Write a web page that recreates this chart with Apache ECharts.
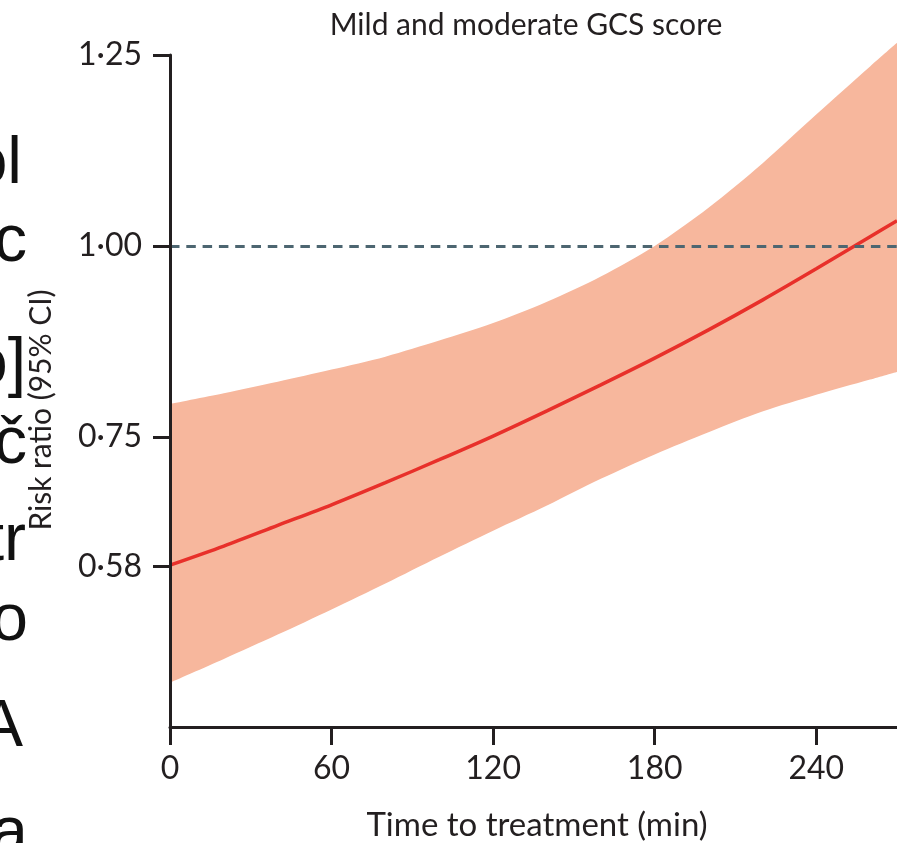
<!DOCTYPE html>
<html>
<head>
<meta charset="utf-8">
<script src="https://cdn.jsdelivr.net/npm/echarts@6/dist/echarts.min.js"></script>
<style>
html,body{margin:0;padding:0;background:#fff;}
#chart{width:897px;height:843px;}
</style>
</head>
<body>
<div id="chart"></div>
<script>
// Time to treatment (min)
var times = [0, 20, 40, 60, 80, 100, 120, 140, 160, 180, 200, 220, 240, 260, 270];
// Risk ratio (point estimate)
var riskRatio = [0.582, 0.607, 0.634, 0.661, 0.690, 0.720, 0.751, 0.784, 0.818, 0.853, 0.890, 0.929, 0.970, 1.012, 1.033];
// 95% CI bounds
var ciLower = [0.428, 0.459, 0.491, 0.524, 0.558, 0.593, 0.627, 0.660, 0.695, 0.727, 0.756, 0.783, 0.805, 0.825, 0.835];
var ciUpper = [0.793, 0.807, 0.822, 0.838, 0.855, 0.876, 0.899, 0.927, 0.960, 1.000, 1.050, 1.108, 1.172, 1.235, 1.266];
// Tick labels
var xTicks = [0, 60, 120, 180, 240];
var yTicks = [0.58, 0.75, 1.00, 1.25];
var refValue = 1.0;
var titleText = 'Mild and moderate GCS score';
var xName = 'Time to treatment (min)';
var yName = 'Risk ratio (95% CI)';
// Cropped neighbouring-panel fragments at left edge
var edgeFragments = ['ol', 'nc', 'o]', 'oč', 'tr', 'o', 'A', 'a'];

var FONT = 'Lato, "Liberation Sans", sans-serif';
var INK = '#231f20';

var lowerData = times.map(function (t, i) { return [t, ciLower[i]]; });
var upperData = times.map(function (t, i) { return [t, ciUpper[i]]; });
var lineData = times.map(function (t, i) { return [t, riskRatio[i]]; });

var fragY = [132, 210, 333, 412, 509, 589, 695, 802];
var fragX = [22, 27, 26, 27, 26, 28, 23, 28];
var graphics = [];
graphics.push({
  type: 'text', x: 526, y: 25, z: 100,
  style: { text: titleText, font: '30px ' + FONT, fill: INK, textAlign: 'center', textVerticalAlign: 'middle' }
});
graphics.push({
  type: 'text', x: 537, y: 825, z: 100,
  style: { text: xName, font: '33px ' + FONT, fill: INK, textAlign: 'center', textVerticalAlign: 'middle' }
});
graphics.push({
  type: 'text', x: 41, y: 410, rotation: Math.PI / 2, z: 100,
  style: { text: yName, font: '30px ' + FONT, fill: INK, textAlign: 'center', textVerticalAlign: 'middle' }
});
edgeFragments.forEach(function (s, i) {
  graphics.push({
    type: 'text', x: fragX[i], y: fragY[i], z: 100,
    style: { text: s, font: '66px "Liberation Sans", sans-serif', fill: '#111', textAlign: 'right', textVerticalAlign: 'top' }
  });
});

var chart = echarts.init(document.getElementById('chart'), null, { renderer: 'canvas' });
chart.setOption({
  animation: false,
  backgroundColor: '#fff',
  grid: { left: 170, right: 0, top: 55, bottom: 116, containLabel: false },
  xAxis: {
    type: 'value', min: 0, max: 270, z: 10,
    axisLine: { show: true, lineStyle: { color: INK, width: 3 } },
    axisTick: { show: true, customValues: xTicks, length: 18, lineStyle: { color: INK, width: 3 } },
    axisLabel: { customValues: xTicks, fontSize: 32, fontFamily: FONT, color: INK, margin: 26 },
    splitLine: { show: false }
  },
  yAxis: {
    type: 'value', min: 0.37, max: 1.25, z: 10,
    axisLine: { show: true, lineStyle: { color: INK, width: 3 } },
    axisTick: { show: true, customValues: yTicks, length: 17, lineStyle: { color: INK, width: 3 } },
    axisLabel: {
      customValues: yTicks, fontSize: 32, fontFamily: FONT, color: INK, margin: 28,
      formatter: function (v) { return v.toFixed(2).replace('.', '\u00B7'); }
    },
    splitLine: { show: false }
  },
  series: [
    {
      name: 'upper', type: 'line', data: upperData, symbol: 'none', smooth: 0.3, clip: false,
      lineStyle: { width: 0, opacity: 0 },
      areaStyle: { color: '#f7b79d', opacity: 1, origin: 'start' }, silent: true, z: 1
    },
    {
      name: 'lower', type: 'line', data: lowerData, symbol: 'none', smooth: 0.3,
      lineStyle: { width: 0, opacity: 0 },
      areaStyle: { color: '#ffffff', opacity: 1, origin: 'start' }, silent: true, z: 1
    },
    {
      name: 'rr', type: 'line', data: lineData, symbol: 'none', smooth: 0.3, z: 3,
      lineStyle: { color: '#e8302a', width: 3.5 },
      markLine: {
        silent: true, symbol: 'none',
        label: { show: false },
        lineStyle: { color: '#4d6671', width: 3, type: [9.5, 6.8] },
        data: [{ yAxis: refValue }]
      }
    }
  ],
  graphic: graphics
});
</script>
</body>
</html>
